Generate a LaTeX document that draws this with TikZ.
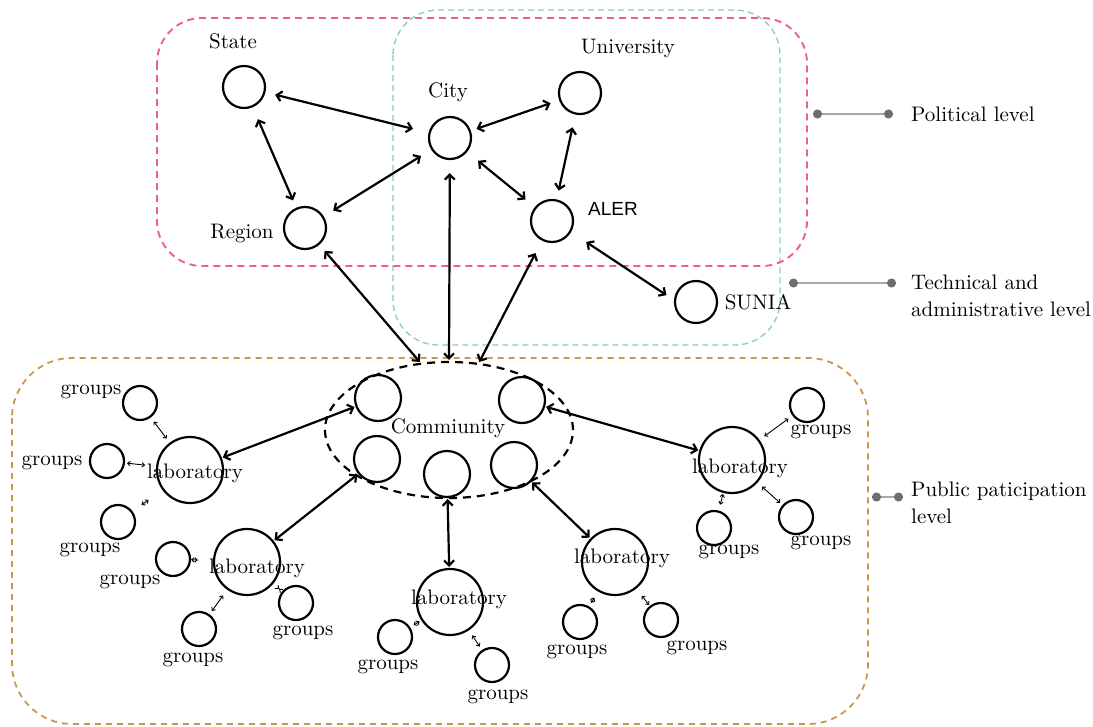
\documentclass[tikz,border=0pt]{standalone}
\usepackage{fontspec}
\setmainfont{lmroman10-regular}[Extension=.otf]
\newfontfamily\alerfont{Liberation Sans}
\usetikzlibrary{arrows.meta,shapes.geometric}
\definecolor{polpink}{HTML}{F0607F}
\definecolor{techgreen}{HTML}{8ACDAA}
\definecolor{pubtan}{HTML}{C9974E}
\definecolor{dotgray}{HTML}{6E6E6E}
\definecolor{linegray}{HTML}{A8A8A8}
\begin{document}
\begin{tikzpicture}[x=1pt,y=-1pt,
  lbl/.style={font=\fontsize{21}{25}\selectfont, inner sep=0pt},
  actor/.style={circle, draw, line width=2.2pt, minimum size=42pt, inner sep=0pt},
  member/.style={circle, draw, line width=2.2pt, minimum size=46pt, inner sep=0pt},
  lab/.style={circle, draw, line width=2.2pt, minimum size=66pt, inner sep=0pt},
  grp/.style={circle, draw, line width=2.2pt, minimum size=34pt, inner sep=0pt},
  link/.style={line width=2.2pt, {Straight Barb[length=5pt,width=10pt]}-{Straight Barb[length=5pt,width=10pt]}, shorten <=1pt, shorten >=1pt},
  tie/.style={line width=0.9pt, {Straight Barb[length=2.5pt,width=4.5pt]}-{Straight Barb[length=2.5pt,width=4.5pt]}},
  levelline/.style={draw=linegray, line width=2pt,
    {Circle[length=9pt,color=dotgray]}-{Circle[length=9pt,color=dotgray]}}
]
\useasboundingbox (0,0) rectangle (1093,726);

% level frames
\draw[techgreen, line width=1.3pt, dash pattern=on 6pt off 4pt, rounded corners=45pt] (393,10) rectangle (780,345);
\draw[polpink, line width=1.9pt, dash pattern=on 7pt off 5pt, rounded corners=45pt] (157,18) rectangle (807,266);
\draw[pubtan, line width=1.8pt, dash pattern=on 6pt off 5pt, rounded corners=60pt] (12,358) rectangle (868,724);

% level legend
\coordinate (polTip) at (813,114);
\coordinate (polDot) at (893,114);
\node[lbl, anchor=west] (polText) at (911,114) {Political level};
\draw[levelline] (polTip) -- (polDot);

\coordinate (techTip) at (789,283);
\coordinate (techDot) at (896,283);
\node[lbl, anchor=west, align=left, font=\fontsize{21}{27}\selectfont] (techText) at (911,296) {Technical and\\administrative level};
\draw[levelline] (techTip) -- (techDot);

\coordinate (pubTip) at (872,497);
\coordinate (pubDot) at (903,497);
\node[lbl, anchor=west, align=left, font=\fontsize{21}{27}\selectfont] (pubText) at (911,503) {Public paticipation\\level};
\draw[levelline] (pubTip) -- (pubDot);

% institutional actors
\node[actor] (state) at (244,87) {};
\node[actor] (city) at (450,138) {};
\node[actor] (univ) at (580,93) {};
\node[actor] (region) at (305,228) {};
\node[actor] (aler) at (552,221) {};
\node[actor] (sunia) at (696,302) {};
\node[lbl] (stateL) at (233,41) {State};
\node[lbl] (cityL) at (448,92) {City};
\node[lbl] (univL) at (628,48) {University};
\node[lbl] (regionL) at (242,233) {Region};
\node[lbl, font=\alerfont\fontsize{19}{22}\selectfont] (alerL) at (613,209) {ALER};
\node[lbl] (suniaL) at (758,302) {SUNIA};

% community
\node[ellipse, draw, line width=2.2pt, dash pattern=on 8pt off 6pt, minimum width=248pt, minimum height=136pt, inner sep=0pt] (comm) at (449,430) {};
\node[member] (c1) at (378,398) {};
\node[member] (c2) at (522,400) {};
\node[member] (c3) at (377,459) {};
\node[member] (c4) at (447,474) {};
\node[member] (c5) at (514,465) {};
\node[lbl] (commL) at (448,428) {Commiunity};

% laboratories
\node[lab] (lab1) at (190,470) {};
\node[lab] (lab2) at (247,562) {};
\node[lab] (lab3) at (450,602) {};
\node[lab] (lab4) at (615,562) {};
\node[lab] (lab5) at (732,460) {};
\node[lbl] (lab1L) at (195,473) {laboratory};
\node[lbl] (lab2L) at (257,568) {laboratory};
\node[lbl] (lab3L) at (459,599) {laboratory};
\node[lbl] (lab4L) at (622,558) {laboratory};
\node[lbl] (lab5L) at (740,468) {laboratory};

% groups
\node[grp] (g11) at (140,403) {};
\node[grp] (g12) at (107,461) {};
\node[grp] (g13) at (118,522) {};
\node[grp] (g21) at (173,559) {};
\node[grp] (g22) at (199,629) {};
\node[grp] (g23) at (296,603) {};
\node[grp] (g31) at (395,637) {};
\node[grp] (g32) at (492,665) {};
\node[grp] (g41) at (580,622) {};
\node[grp] (g42) at (661,620) {};
\node[grp] (g51) at (807,405) {};
\node[grp] (g52) at (714,528) {};
\node[grp] (g53) at (796,517) {};
\node[lbl] (g11L) at (91,392) {groups};
\node[lbl] (g12L) at (52,463) {groups};
\node[lbl] (g13L) at (90,550) {groups};
\node[lbl] (g21L) at (130,582) {groups};
\node[lbl] (g22L) at (193,660) {groups};
\node[lbl] (g23L) at (303,633) {groups};
\node[lbl] (g31L) at (388,667) {groups};
\node[lbl] (g32L) at (498,697) {groups};
\node[lbl] (g41L) at (577,652) {groups};
\node[lbl] (g42L) at (697,648) {groups};
\node[lbl] (g51L) at (821,432) {groups};
\node[lbl] (g52L) at (729,552) {groups};
\node[lbl] (g53L) at (821,543) {groups};

% links between actors
\draw[link, shorten <=10pt, shorten >=16pt] (state) -- (city);
\draw[link, shorten <=13pt, shorten >=8pt] (state) -- (region);
\draw[link, shorten <=11pt, shorten >=12pt] (region) -- (city);
\draw[link, shorten <=6pt, shorten >=9pt] (city) -- (univ);
\draw[link, shorten <=13pt, shorten >=9pt] (univ) -- (aler);
\draw[link, shorten <=14pt, shorten >=12pt] (city) -- (aler);
\draw[link, shorten <=18pt, shorten >=9pt] (aler.-30) -- (sunia.175);
\draw[link, shorten <=8pt] (region) -- (comm.113);
\draw[link, shorten <=13pt] (city) -- (comm.north);
\draw[link, shorten <=14pt] (aler) -- (comm.66);

% community to laboratories
\draw[link] (c1) -- (lab1);
\draw[link] (c3) -- (lab2);
\draw[link] (c4) -- (lab3);
\draw[link] (c5) -- (lab4);
\draw[link] (c2) -- (lab5);

% groups to laboratories
\draw[tie, shorten <=5pt, shorten >=5pt] (g11) -- (lab1);
\draw[tie, shorten <=2pt, shorten >=11pt] (g12) -- (lab1);
\draw[tie, shorten <=11pt, shorten >=17pt] (g13) -- (lab1);
\draw[tie, shorten <=0pt, shorten >=15pt] (g21) -- (lab2);
\draw[tie, shorten <=4pt, shorten >=7pt] (g22) -- (lab2);
\draw[tie, shorten <=4pt, shorten >=8pt] (g23) -- (lab2);
\draw[tie, shorten <=4pt, shorten >=2pt] (g31) -- (lab3);
\draw[tie, shorten <=4pt, shorten >=6pt] (g32) -- (lab3);
\draw[tie, shorten <=4pt, shorten >=7pt] (g41) -- (lab4);
\draw[tie, shorten <=1pt, shorten >=9pt] (g42) -- (lab4);
\draw[tie, shorten <=5pt, shorten >=6pt] (g51) -- (lab5);
\draw[tie, shorten <=6pt, shorten >=1pt] (g52) -- (lab5);
\draw[tie, shorten <=3pt, shorten >=6pt] (g53) -- (lab5);
\end{tikzpicture}
\end{document}
